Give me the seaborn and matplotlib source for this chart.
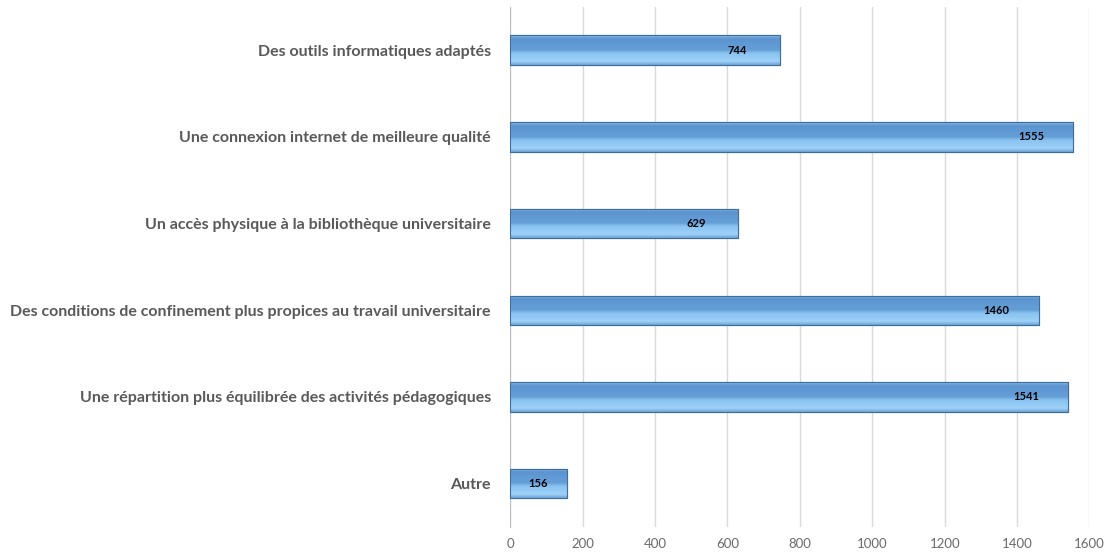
import numpy as np
import pandas as pd
import seaborn as sns
import matplotlib.pyplot as plt
from matplotlib.colors import LinearSegmentedColormap

categories = ['Des outils informatiques adaptés',
              'Une connexion internet de meilleure qualité',
              'Un accès physique à la bibliothèque universitaire',
              'Des conditions de confinement plus propices au travail universitaire',
              'Une répartition plus équilibrée des activités pédagogiques',
              'Autre']
counts = [744, 1555, 629, 1460, 1541, 156]
xticks = [0, 200, 400, 600, 800, 1000, 1200, 1400, 1600]

df = pd.DataFrame({'reponse': categories, 'nombre': counts})

sns.set_style('white')
plt.rcParams['font.family'] = ['Lato', 'DejaVu Sans']

fig, ax = plt.subplots(figsize=(11.14, 5.56), dpi=100)
fig.subplots_adjust(left=0.458, right=0.978, top=0.988, bottom=0.052)

sns.barplot(x='nombre', y='reponse', data=df, orient='h', width=0.34,
            color='#5b9bd5', edgecolor='#3d6f9e', linewidth=0.8, ax=ax)

ax.set_xlim(0, 1600)
xl, yl = ax.get_xlim(), ax.get_ylim()

# bevel-ish vertical gradient on each bar
cmap = LinearSegmentedColormap.from_list('bev', [
    (0.0, '#8bbbe8'), (0.12, '#5c94cf'), (0.5, '#659fd8'),
    (0.6, '#88c2f0'), (0.88, '#9fd2f8'), (1.0, '#6fa5d6')])
grad = np.linspace(0, 1, 64).reshape(-1, 1)
for p in ax.patches:
    x, y, w, h = p.get_x(), p.get_y(), p.get_width(), p.get_height()
    im = ax.imshow(grad, cmap=cmap, aspect='auto', origin='upper',
                   extent=[x, x + w, y + h, y], zorder=p.get_zorder() + 0.1)
    im.set_clip_path(p)
ax.set_xlim(xl)
ax.set_ylim(yl)

# bar edges on top of gradient
for p in ax.patches:
    ax.add_patch(plt.Rectangle((p.get_x(), p.get_y()), p.get_width(), p.get_height(),
                               fill=False, edgecolor='#3d6f9e', linewidth=0.8, zorder=5))

for i, v in enumerate(counts):
    ax.text(max(v - 116, v / 2), i, str(v), ha='center', va='center',
            fontsize=8, fontweight='bold', color='black', zorder=6)

ax.set_xticks(xticks)
ax.grid(axis='x', color='#d9d9d9', linewidth=1)
ax.set_axisbelow(True)
ax.set_xlabel('')
ax.set_ylabel('')
for s in ['top', 'right', 'bottom']:
    ax.spines[s].set_visible(False)
ax.spines['left'].set_color('#bfbfbf')
ax.tick_params(axis='both', length=0)
ax.tick_params(axis='x', labelsize=9.5, labelcolor='#6a6a6a', pad=8)
ax.tick_params(axis='y', labelsize=11.5, labelcolor='#595959', pad=14)
for t in ax.get_yticklabels():
    t.set_fontweight('bold')

plt.savefig('out.png', dpi=100)
